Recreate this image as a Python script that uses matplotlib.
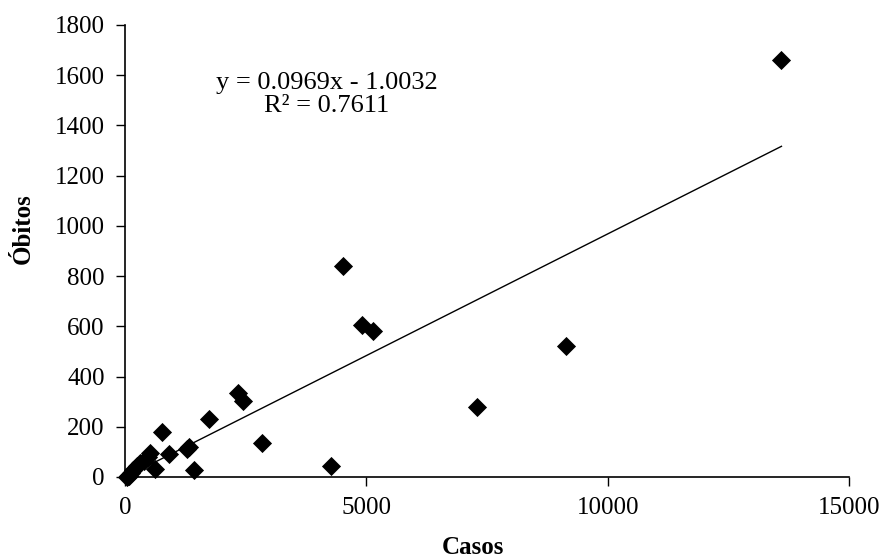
import numpy as np
import matplotlib.pyplot as plt

# casos x obitos (one point per estado)
casos = [13600, 4520, 4900, 5140, 9130, 7300, 4275, 2838, 2347, 2451,
         1747, 773, 1326, 1290, 918, 518, 480, 621, 1436, 311,
         400, 250, 173, 120, 80, 60, 35]
obitos = [1660, 840, 605, 581, 523, 280, 45, 137, 336, 304,
          231, 180, 121, 112, 92, 94, 80, 31, 28, 55,
          62, 42, 28, 15, 5, 3, 1]

slope = 0.0969
intercept = -1.0032
r2 = 0.7611

plt.rcParams['font.family'] = ['Liberation Serif', 'DejaVu Serif']

fig = plt.figure(figsize=(8.91, 5.59), dpi=100)
ax = fig.add_axes([0.1403, 0.1467, 0.8126, 0.8086])

ax.scatter(casos, obitos, marker='D', s=95, color='black', zorder=3,
           clip_on=False, linewidths=0)

xs = np.array([min(casos), max(casos)])
ax.plot(xs, slope * xs + intercept, color='black', linewidth=1.0)

ax.text(0.279, 0.847, 'y = %.4fx - %.4f\nR² = %.4f' % (slope, -intercept, r2),
        transform=ax.transAxes, ha='center', va='center', fontsize=19,
        linespacing=1.05, multialignment='center')

ax.set_xlim(0, 15000)
ax.set_ylim(0, 1800)
ax.set_xticks([0, 5000, 10000, 15000])
ax.set_yticks(range(0, 1801, 200))
ax.tick_params(direction='out', length=6.5, width=1, labelsize=18, pad=8)

for side in ['top', 'right']:
    ax.spines[side].set_visible(False)
for side in ['left', 'bottom']:
    ax.spines[side].set_linewidth(1.2)

ax.set_xlabel('Casos', fontsize=18, fontweight='bold')
ax.set_ylabel('Óbitos', fontsize=18, fontweight='bold')
ax.xaxis.set_label_coords(0.48, -0.13)
ax.yaxis.set_label_coords(-0.125, 0.55)

fig.savefig('out.png', dpi=100)
